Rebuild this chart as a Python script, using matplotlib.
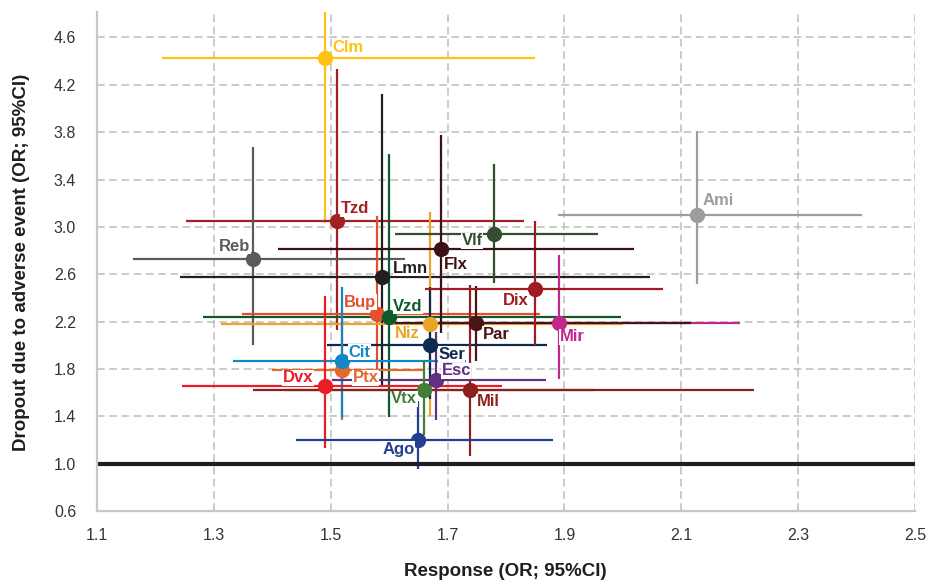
import matplotlib
matplotlib.use("Agg")
import matplotlib.pyplot as plt

# ---- data (draw order matters for overlapping lines) ----
names = ["Clm", "Tzd", "Reb", "Lmn", "Bup", "Vzd", "Mir", "Niz", "Par", "Ser",
         "Ptx", "Cit", "Dvx", "Esc", "Vtx", "Mil", "Ago", "Dix", "Ami", "Vlf", "Flx"]
resp =    [1.490, 1.510, 1.367, 1.588, 1.580, 1.600, 1.890, 1.670, 1.748, 1.670,
           1.520, 1.520, 1.491, 1.681, 1.660, 1.738, 1.650, 1.850, 2.127, 1.779, 1.689]
resp_lo = [1.211, 1.253, 1.162, 1.242, 1.348, 1.282, 1.650, 1.312, 1.610, 1.493,
           1.399, 1.333, 1.246, 1.502, 1.420, 1.367, 1.440, 1.661, 1.889, 1.610, 1.410]
resp_hi = [1.850, 1.831, 1.627, 2.046, 1.858, 1.996, 2.200, 2.000, 2.117, 1.870,
           1.658, 1.731, 1.793, 1.868, 1.950, 2.224, 1.880, 2.069, 2.410, 1.958, 2.019]
drop =    [4.423, 3.051, 2.725, 2.574, 2.262, 2.237, 2.191, 2.180, 2.186, 1.998,
           1.793, 1.863, 1.658, 1.708, 1.624, 1.624, 1.197, 2.473, 3.100, 2.944, 2.813]
drop_lo = [3.035, 2.130, 1.998, 1.652, 1.700, 1.390, 1.717, 1.399, 1.871, 1.550,
           1.371, 1.385, 1.132, 1.365, 1.245, 1.062, 0.955, 2.003, 2.515, 2.529, 2.102]
drop_hi = [4.950, 4.336, 3.673, 4.126, 3.088, 3.614, 2.762, 3.125, 2.500, 2.490,
           2.300, 2.490, 2.417, 2.110, 1.877, 2.509, 1.525, 3.049, 3.808, 3.530, 3.780]

x_ticks = [1.1, 1.3, 1.5, 1.7, 1.9, 2.1, 2.3, 2.5]
y_ticks = [0.6, 1.0, 1.4, 1.8, 2.2, 2.6, 3.0, 3.4, 3.8, 4.2, 4.6]

# ---- styles ----
colors = {
    "Clm": "#FFC20E", "Tzd": "#A31F24", "Reb": "#5B5B5D", "Lmn": "#231F20",
    "Bup": "#E5502A", "Vzd": "#0C5A2E", "Mir": "#C1278E", "Niz": "#E9A525",
    "Par": "#4A1417", "Ser": "#0E2A4F", "Ptx": "#E6672A", "Cit": "#1286C6",
    "Dvx": "#EC1C24", "Esc": "#613083", "Vtx": "#437D36", "Mil": "#8E1F1F",
    "Ago": "#233F8F", "Dix": "#A01B22", "Ami": "#9D9D9F", "Vlf": "#344E30",
    "Flx": "#3D1011",
}
# label offsets in pixels (dx, dy) and horizontal alignment
label_pos = {
    "Clm": (8, 11, "left"), "Tzd": (4, 12, "left"), "Reb": (-3, 13, "right"),
    "Lmn": (11, 9, "left"), "Bup": (-1, 12, "right"), "Vzd": (4, 11, "left"),
    "Niz": (-10, -10, "right"), "Ser": (8, -9, "left"), "Cit": (6, 9, "left"),
    "Ptx": (10, -8, "left"), "Dvx": (-12, 8, "right"), "Esc": (5, 9, "left"),
    "Vtx": (-7, -9, "right"), "Mil": (7, -12, "left"), "Ago": (-4, -9, "right"),
    "Par": (7, -11, "left"), "Dix": (-7, -11, "right"), "Mir": (1, -14, "left"),
    "Ami": (6, 15, "left"), "Vlf": (-11, -7, "right"), "Flx": (3, -15, "left"),
}

plt.rcParams['font.family'] = ['Liberation Sans', 'DejaVu Sans']

fig = plt.figure(figsize=(9.26, 5.81), dpi=100)
ax = fig.add_axes([97 / 926, 1 - 511 / 581, (915 - 97) / 926, (511 - 12) / 581])
ax.set_xlim(1.1, 2.5)
ax.set_ylim(0.6, 4.815)

ax.set_xticks(x_ticks)
ax.set_yticks(y_ticks)
ax.set_xticklabels([f"{v:.1f}" for v in x_ticks])
ax.set_yticklabels([f"{v:.1f}" for v in y_ticks])
ax.tick_params(axis="y", length=0, labelsize=11.5, colors="#333333", pad=15)
ax.tick_params(axis="x", length=0, labelsize=11.5, colors="#333333", pad=12)
ax.grid(True, color="#BDBDBD", linestyle=(0, (5, 3)), linewidth=1.1, zorder=0)
ax.set_axisbelow(True)
for s in ["top", "right"]:
    ax.spines[s].set_visible(False)
for s in ["left", "bottom"]:
    ax.spines[s].set_color("#C8C8C8")
    ax.spines[s].set_linewidth(1.6)

lw = 1.6
for i, n in enumerate(names):
    c = colors[n]
    ax.plot([resp_lo[i], resp_hi[i]], [drop[i], drop[i]], color=c, lw=lw,
            solid_capstyle="butt", zorder=2)
    ax.plot([resp[i], resp[i]], [drop_lo[i], drop_hi[i]], color=c, lw=lw,
            solid_capstyle="butt", zorder=2)

ax.axhline(1.0, color="#1E1E1E", lw=3, zorder=2.5)

for i, n in enumerate(names):
    c = colors[n]
    ax.plot(resp[i], drop[i], "o", color=c, ms=10, mec=c, zorder=3)

for i, n in enumerate(names):
    dx, dy, ha = label_pos[n]
    ax.annotate(n, (resp[i], drop[i]), xytext=(dx, dy), textcoords="offset pixels",
                ha=ha, va="center", fontsize=12, fontweight="bold", color=colors[n],
                zorder=4,
                bbox=dict(boxstyle="square,pad=0.03", fc="white", ec="none"))

fig.text(505 / 926, 1 - 571 / 581, "Response (OR; 95%CI)", ha="center", va="center",
         fontsize=13.5, fontweight="bold", color="#1E1E1E")
fig.text(22 / 926, 1 - 262 / 581, "Dropout due to adverse event (OR; 95%CI)",
         ha="center", va="center", rotation=90, fontsize=13.5, fontweight="bold",
         color="#1E1E1E")

fig.savefig("out.png", dpi=100)
